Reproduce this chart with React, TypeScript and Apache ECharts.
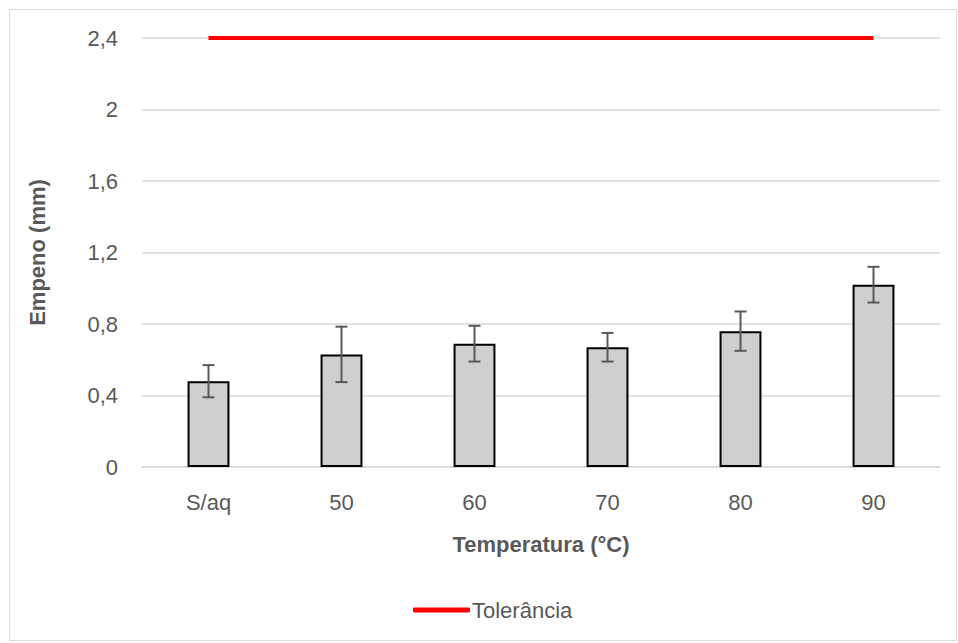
import React, { useEffect, useRef } from "react";
import * as echarts from "echarts";

const categories = ["S/aq", "50", "60", "70", "80", "90"];
const empeno = [0.48, 0.63, 0.69, 0.67, 0.76, 1.02];
const errors = [0.09, 0.155, 0.1, 0.08, 0.11, 0.1];
const tolerance = [2.4, 2.4, 2.4, 2.4, 2.4, 2.4];
const yTicks = { min: 0, max: 2.4, interval: 0.4 };

export default function App() {
  const ref = useRef<HTMLDivElement>(null);
  useEffect(() => {
    if (!ref.current) return;
    const chart = echarts.init(ref.current, null, { renderer: "svg" });
    const font = "'Liberation Sans', Arial, sans-serif";
    const errData = empeno.map((v, i) => [i, v - errors[i], v + errors[i]]);
    chart.setOption({
      animation: false,
      backgroundColor: "#fff",
      textStyle: { fontFamily: font },
      graphic: [
        {
          type: "rect",
          shape: { x: 9.5, y: 9.5, width: 947, height: 631 },
          style: { fill: "none", stroke: "#d9d9d9", lineWidth: 1 },
          silent: true,
        },
      ],
      grid: { left: 142, right: 18, top: 38, bottom: 176 },
      legend: {
        data: [{ name: "Tolerância", icon: "roundRect" }],
        top: 594,
        left: 408,
        itemWidth: 57,
        itemHeight: 5,
        itemGap: 4,
        itemStyle: { color: "#ff0000" },
        textStyle: { fontFamily: font, fontSize: 22, color: "#595959", padding: [0, 0, 0, -3] },
      },
      xAxis: {
        type: "category",
        data: categories,
        name: "Temperatura (°C)",
        nameLocation: "middle",
        nameGap: 66,
        nameTextStyle: { fontFamily: font, fontSize: 22, fontWeight: "bold", color: "#595959" },
        axisLine: { lineStyle: { color: "#d9d9d9", width: 1.5 } },
        axisTick: { show: false },
        axisLabel: { fontFamily: font, fontSize: 22, color: "#595959", margin: 24 },
      },
      yAxis: {
        type: "value",
        min: yTicks.min,
        max: yTicks.max,
        interval: yTicks.interval,
        name: "Empeno (mm)",
        nameLocation: "middle",
        nameGap: 94,
        nameRotate: 90,
        nameTextStyle: { fontFamily: font, fontSize: 22, fontWeight: "bold", color: "#595959" },
        axisLine: { show: false },
        axisTick: { show: false },
        splitLine: { lineStyle: { color: "#d9d9d9", width: 1.5 } },
        axisLabel: {
          fontFamily: font,
          fontSize: 22,
          color: "#595959",
          margin: 24,
          formatter: (v: number) => String(Math.round(v * 10) / 10).replace(".", ","),
        },
      },
      series: [
        {
          name: "Empeno",
          type: "bar",
          data: empeno,
          barWidth: "31.5%",
          itemStyle: { color: "#d0cece", borderColor: "#000", borderWidth: 2 },
          z: 2,
        },
        {
          name: "Erro",
          type: "custom",
          data: errData,
          z: 3,
          renderItem: (params: any, api: any) => {
            const x = api.value(0);
            const lo = api.coord([x, api.value(1)]);
            const hi = api.coord([x, api.value(2)]);
            const hw = 6;
            const style = { stroke: "#595959", lineWidth: 2, fill: "none" };
            return {
              type: "group",
              children: [
                { type: "line", shape: { x1: lo[0], y1: lo[1], x2: hi[0], y2: hi[1] }, style },
                { type: "line", shape: { x1: lo[0] - hw, y1: lo[1], x2: lo[0] + hw, y2: lo[1] }, style },
                { type: "line", shape: { x1: hi[0] - hw, y1: hi[1], x2: hi[0] + hw, y2: hi[1] }, style },
              ],
            };
          },
        },
        {
          name: "Tolerância",
          type: "line",
          data: tolerance,
          symbol: "none",
          lineStyle: { color: "#ff0000", width: 4 },
          itemStyle: { color: "#ff0000" },
          z: 4,
        },
      ],
    });
    return () => chart.dispose();
  }, []);
  return (
    <div
      ref={ref}
      style={{ position: "fixed", left: 0, top: 0, width: 958, height: 643 }}
    />
  );
}
